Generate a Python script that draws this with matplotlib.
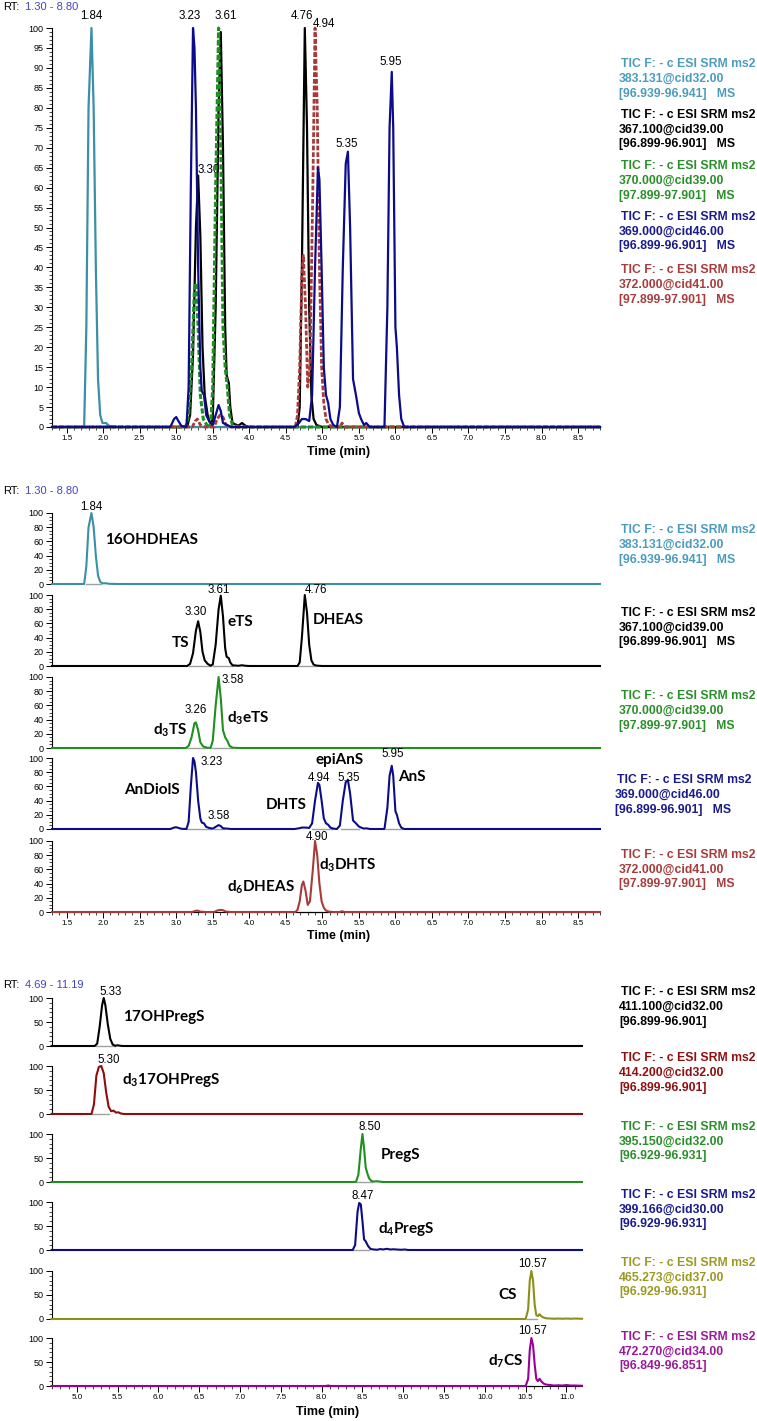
import matplotlib
matplotlib.use('Agg')
import matplotlib.pyplot as plt
from matplotlib.ticker import MultipleLocator, FormatStrFormatter

plt.rcParams['font.family'] = ['Liberation Sans', 'DejaVu Sans']
plt.rcParams['mathtext.fontset'] = 'custom'
plt.rcParams['mathtext.rm'] = 'Lato:bold'
plt.rcParams['mathtext.it'] = 'Lato:bold'
plt.rcParams['mathtext.bf'] = 'Lato:bold'

W, H = 757, 1421

# ---------------- traces, run 1 (RT 1.30 - 8.80) ----------------
t_383 = [1.30, 1.74, 1.77, 1.80, 1.84, 1.87, 1.90, 1.93, 1.96, 1.99, 2.04, 2.08, 2.20, 8.80]
i_383 = [0, 0, 25, 80, 100, 80, 40, 12, 3, 1, 1, 0.3, 0, 0]

t_367 = [1.30, 3.15, 3.19, 3.23, 3.27, 3.30, 3.33, 3.36, 3.39, 3.43, 3.47, 3.50, 3.54, 3.58,
         3.61, 3.64, 3.67, 3.69, 3.72, 3.74, 3.77, 3.85, 3.90, 3.95, 4.00, 4.66, 4.69, 4.72,
         4.76, 4.79, 4.82, 4.85, 4.88, 4.92, 5.00, 8.80]
i_367 = [0, 0, 3, 18, 50, 63, 48, 20, 8, 3, 0.5, 2, 30, 80,
         99, 70, 25, 13, 11, 5, 1, 0.3, 1, 0.3, 0, 0, 5, 40,
         100, 75, 30, 8, 2, 0.5, 0, 0]

t_370 = [1.30, 3.13, 3.17, 3.21, 3.25, 3.27, 3.30, 3.33, 3.37, 3.42, 3.47, 3.50, 3.54, 3.58,
         3.61, 3.64, 3.67, 3.70, 3.73, 3.77, 3.85, 8.80]
i_370 = [0, 0, 3, 15, 35, 36, 25, 8, 2, 0.5, 0, 10, 60, 100,
         70, 25, 15, 10, 3, 0.5, 0, 0]

t_369 = [1.30, 2.92, 2.97, 3.00, 3.03, 3.07, 3.14, 3.17, 3.20, 3.23, 3.25, 3.27, 3.30, 3.33,
         3.35, 3.38, 3.41, 3.45, 3.50, 3.54, 3.58, 3.61, 3.64, 3.70, 3.75, 4.62, 4.68, 4.72,
         4.77, 4.82, 4.86, 4.90, 4.94, 4.96, 4.99, 5.02, 5.05, 5.08, 5.11, 5.15, 5.20, 5.24,
         5.28, 5.32, 5.35, 5.38, 5.42, 5.46, 5.50, 5.53, 5.57, 5.60, 5.65, 5.85, 5.89, 5.92,
         5.95, 5.97, 6.00, 6.02, 6.05, 6.08, 6.12, 8.80]
i_369 = [0, 0, 2, 2.5, 1.5, 0.3, 0, 10, 60, 100, 95, 80, 40, 15,
         9, 8, 3, 1.5, 0.5, 3, 5.5, 4, 1, 0.5, 0, 0, 1, 2,
         2, 1.5, 8, 40, 65, 62, 40, 15, 8, 6, 2, 0.5, 0, 5,
         40, 66, 69, 50, 12, 8, 3.5, 2, 0.5, 1, 0, 0, 30, 75,
         89, 75, 25, 20, 8, 2, 0, 0]

t_372 = [1.30, 3.22, 3.26, 3.29, 3.33, 3.40, 3.52, 3.56, 3.60, 3.64, 3.68, 3.75, 4.63, 4.66,
         4.69, 4.72, 4.74, 4.77, 4.80, 4.83, 4.87, 4.90, 4.93, 4.96, 4.99, 5.02, 5.05, 5.09,
         5.15, 5.24, 5.27, 5.30, 8.80]
i_372 = [0, 0, 1.5, 2, 0.5, 0, 0, 2, 3, 2.5, 0.5, 0, 0, 3,
         15, 38, 43, 30, 10, 15, 60, 100, 80, 40, 15, 6, 2, 0.5,
         0, 0, 1, 0, 0]

# ---------------- traces, run 2 (RT 4.69 - 11.19) ----------------
t_411 = [4.69, 5.22, 5.25, 5.28, 5.31, 5.33, 5.35, 5.38, 5.41, 5.44, 5.47, 5.50, 5.53, 5.56, 11.19]
i_411 = [0, 0, 5, 40, 85, 100, 85, 45, 15, 3, 0.5, 1.5, 0.5, 0, 0]

t_414 = [4.69, 5.18, 5.21, 5.24, 5.27, 5.30, 5.33, 5.36, 5.39, 5.42, 5.45, 5.48, 5.51, 5.54, 5.58, 11.19]
i_414 = [0, 0, 20, 80, 98, 100, 85, 45, 15, 6, 7, 3, 3.5, 1, 0, 0]

t_395 = [4.69, 8.42, 8.45, 8.48, 8.50, 8.52, 8.54, 8.56, 8.58, 8.61, 8.64, 8.68, 8.72, 8.76, 11.19]
i_395 = [0, 0, 15, 70, 100, 70, 30, 18, 8, 2, 1, 1.5, 0.5, 0, 0]

t_399 = [4.69, 8.38, 8.41, 8.44, 8.46, 8.48, 8.50, 8.52, 8.54, 8.57, 8.60, 8.64, 8.68, 8.72,
         8.75, 8.80, 8.84, 8.88, 8.92, 8.97, 9.02, 9.06, 11.19]
i_399 = [0, 0, 10, 80, 98, 95, 60, 22, 18, 8, 2, 1, 0.5, 2,
         1, 2.5, 1, 1.5, 1, 0.5, 1, 0, 0]

t_465 = [4.69, 10.50, 10.53, 10.55, 10.57, 10.59, 10.61, 10.63, 10.65, 10.67, 10.69, 10.72,
         10.75, 10.80, 10.85, 10.90, 10.95, 11.00, 11.05, 11.10, 11.19]
i_465 = [0, 0, 20, 80, 100, 80, 30, 8, 6, 10, 6, 3,
         1.5, 1, 0.5, 1, 0.5, 1, 0.5, 1, 0.5]

t_472 = [4.69, 8.05, 8.08, 8.11, 10.50, 10.53, 10.55, 10.57, 10.59, 10.61, 10.63, 10.65, 10.67,
         10.69, 10.72, 10.75, 10.80, 10.85, 10.90, 10.95, 11.00, 11.05, 11.10, 11.19]
i_472 = [0, 0, 1, 0, 0, 15, 75, 100, 85, 45, 15, 10, 15,
         10, 5, 3, 2, 1, 1.5, 1, 2, 1, 1, 0.5]

# integration baselines (peak start, peak end)
base_383 = [(1.76, 1.97)]
base_367 = [(3.17, 3.47), (3.50, 3.78), (4.67, 4.90)]
base_370 = [(3.15, 3.42), (3.49, 3.77)]
base_369 = [(3.15, 3.47), (3.52, 3.66), (4.86, 5.13), (5.25, 5.50), (5.87, 6.09)]
base_372 = [(4.65, 4.83), (4.83, 5.07)]
base_411 = [(5.23, 5.47)]
base_414 = [(5.19, 5.40)]
base_395 = [(8.43, 8.62)]
base_399 = [(8.39, 8.58)]
base_465 = [(10.51, 10.64)]
base_472 = [(10.51, 10.64)]

# peak labels (x, y, text)
top_labels = [(1.84, 103, '1.84'), (3.19, 103, '3.23'), (3.68, 103, '3.61'),
              (4.72, 103, '4.76'), (5.02, 101, '4.94'), (5.33, 71, '5.35'), (5.93, 91.5, '5.95')]

mid_peaks = [
    [(1.84, 109, '1.84')],
    [(3.27, 76, '3.30'), (3.58, 107, '3.61'), (4.91, 107, '4.76')],
    [(3.77, 96, '3.58'), (3.27, 54, '3.26')],
    [(3.48, 94, '3.23'), (3.58, 18, '3.58'), (4.95, 72, '4.94'), (5.36, 72, '5.35'), (5.96, 106, '5.95')],
    [(4.93, 105, '4.90')],
]
mid_names = [
    [(2.02, 62, '16OHDHEAS', 'left')],
    [(3.06, 32, 'TS', 'center'), (3.88, 62, 'eTS', 'center'), (5.22, 65, 'DHEAS', 'center')],
    [(2.92, 25, 'd$_3$TS', 'center'), (3.99, 42, 'd$_3$eTS', 'center')],
    [(2.67, 55, 'AnDiolS', 'center'), (4.50, 34, 'DHTS', 'center'), (5.24, 97, 'epiAnS', 'center'),
     (6.23, 73, 'AnS', 'center')],
    [(4.16, 35, 'd$_6$DHEAS', 'center'), (5.35, 66, 'd$_3$DHTS', 'center')],
]
bot_peaks = [
    [(5.41, 113, '5.33')], [(5.39, 112, '5.30')], [(8.59, 115, '8.50')],
    [(8.50, 112, '8.47')], [(10.58, 115, '10.57')], [(10.58, 115, '10.57')],
]
bot_names = [
    [(6.06, 60, '17OHPregS')], [(6.15, 71, 'd$_3$17OHPregS')], [(8.97, 56, 'PregS')],
    [(9.04, 44, 'd$_4$PregS')], [(10.28, 50, 'CS')], [(10.26, 52, 'd$_7$CS')],
]

c_cyan, c_black, c_green, c_blue, c_red = '#3b8fa8', '#000000', '#1f8f1f', '#0c0c8a', '#a83a3a'
c_dred, c_olive, c_purple = '#8e0c0c', '#8e8e1a', '#990099'

leg_top = [
    ('383.131@cid32.00', '[96.939-96.941]   MS', '#4b9cbc'),
    ('367.100@cid39.00', '[96.899-96.901]   MS', '#000000'),
    ('370.000@cid39.00', '[97.899-97.901]   MS', '#2a8f2a'),
    ('369.000@cid46.00', '[96.899-96.901]   MS', '#1a1a8c'),
    ('372.000@cid41.00', '[97.899-97.901]   MS', '#a83c3c'),
]
leg_bot = [
    ('411.100@cid32.00', '[96.899-96.901]', '#000000'),
    ('414.200@cid32.00', '[96.899-96.901]', '#8e1010'),
    ('395.150@cid32.00', '[96.929-96.931]', '#2a8f2a'),
    ('399.166@cid30.00', '[96.929-96.931]', '#1a1a8c'),
    ('465.273@cid37.00', '[96.929-96.931]', '#9a9a22'),
    ('472.270@cid34.00', '[96.849-96.851]', '#9a1a9a'),
]

fig = plt.figure(figsize=(W / 100, H / 100), dpi=100)


def add_ax(left, right, top, zero):
    return fig.add_axes([left / W, 1 - zero / H, (right - left) / W, (zero - top) / H])


def style(ax, xlim, ymaj, ymin, show_x):
    ax.set_xlim(*xlim)
    ax.set_ylim(0, 100)
    ax.patch.set_alpha(0)
    for s in ['top', 'right']:
        ax.spines[s].set_visible(False)
    ax.spines['left'].set_linewidth(0.8)
    ax.yaxis.set_major_locator(MultipleLocator(ymaj))
    ax.yaxis.set_minor_locator(MultipleLocator(ymin))
    ax.tick_params(axis='y', which='major', length=4, width=0.7, labelsize=6.5, pad=2)
    ax.tick_params(axis='y', which='minor', length=2, width=0.5)
    if show_x:
        ax.spines['bottom'].set_linewidth(0.8)
        ax.xaxis.set_major_locator(MultipleLocator(0.5))
        ax.xaxis.set_minor_locator(MultipleLocator(0.1))
        ax.xaxis.set_major_formatter(FormatStrFormatter('%.1f'))
        ax.tick_params(axis='x', which='major', length=4, width=0.7, labelsize=5.8, pad=2)
        ax.tick_params(axis='x', which='minor', length=2, width=0.5)
    else:
        ax.spines['bottom'].set_visible(False)
        ax.set_xticks([])


def trace(ax, t, i, color, bases=None, lw=1.5, ls='-', z=3):
    if bases:
        for a, b in bases:
            ax.plot([a, b], [0, 0], color='#a0a0a0', lw=1.0, zorder=1, clip_on=False)
    ax.plot(t, i, color=color, lw=lw, ls=ls, zorder=z, clip_on=False)


def legend_block(x, y, l2, l3, color):
    fig.text((x + 2) / W, 1 - y / H, 'TIC F: - c ESI SRM ms2', color=color, fontsize=8.8,
             fontweight='bold', va='center')
    fig.text(x / W, 1 - (y + 14.5) / H, l2, color=color, fontsize=8.8, fontweight='bold', va='center')
    fig.text(x / W, 1 - (y + 29.5) / H, l3, color=color, fontsize=8.8, fontweight='bold', va='center')


def rt_label(y, rng):
    fig.text(3 / W, 1 - y / H, 'RT:', fontsize=8, va='center')
    fig.text(25 / W, 1 - y / H, rng, fontsize=8, va='center', color='#4444bb')


def name(ax, x, y, s, ha='center'):
    ax.text(x, y, s, fontsize=11, fontweight='bold', family='Lato', ha=ha, va='center')


def peak(ax, x, y, s, ha='center'):
    ax.text(x, y, s, fontsize=8.3, ha=ha, va='center', clip_on=False)


# ---------------- top: overlay ----------------
rt_label(7, '1.30 - 8.80')
ax = add_ax(52, 600, 28, 427)
style(ax, (1.3, 8.8), 5, 1, True)
ax.text(3.29, 64.4, '3.30', fontsize=8.3, ha='left', va='center', zorder=0)
trace(ax, t_383, i_383, c_cyan, lw=1.6)
trace(ax, t_367, i_367, c_black, lw=1.6)
trace(ax, t_370, i_370, c_green, lw=2.2, ls=(0, (1.7, 0.7)), z=4)
trace(ax, t_372, i_372, c_red, lw=2.0, ls=(0, (1.7, 0.7)), z=4)
trace(ax, t_369, i_369, c_blue, lw=1.6, z=5)
for x, y, s in top_labels:
    peak(ax, x, y, s)
fig.text(339 / W, 1 - 452 / H, 'Time (min)', fontsize=9, fontweight='bold', ha='center', va='center')
for k, (l2, l3, col) in enumerate(leg_top):
    legend_block(619, [64, 115, 166, 217, 270][k], l2, l3, col)

# ---------------- middle: stacked ----------------
rt_label(491, '1.30 - 8.80')
mid_data = [(t_383, i_383, c_cyan, base_383), (t_367, i_367, c_black, base_367),
            (t_370, i_370, c_green, base_370), (t_369, i_369, c_blue, base_369),
            (t_372, i_372, c_red, base_372)]
mid_tops = [513, 595, 677, 758, 841]
for k, (t, i, col, b) in enumerate(mid_data):
    ax = add_ax(52, 600, mid_tops[k], mid_tops[k] + 71)
    style(ax, (1.3, 8.8), 20, 5, k == 4)
    trace(ax, t, i, col, b, lw=1.5)
    for x, y, s in mid_peaks[k]:
        peak(ax, x, y, s)
    for x, y, s, ha in mid_names[k]:
        name(ax, x, y, s, ha)
fig.text(339 / W, 1 - 936 / H, 'Time (min)', fontsize=9, fontweight='bold', ha='center', va='center')
for k, (l2, l3, col) in enumerate(leg_top):
    legend_block(619 if k != 3 else 615, [530, 613, 696, 780, 855][k], l2, l3, col)

# ---------------- bottom: stacked ----------------
rt_label(985, '4.69 - 11.19')
bot_data = [(t_411, i_411, c_black, base_411), (t_414, i_414, c_dred, base_414),
            (t_395, i_395, c_green, base_395), (t_399, i_399, c_blue, base_399),
            (t_465, i_465, c_olive, base_465), (t_472, i_472, c_purple, base_472)]
bot_tops = [998, 1066, 1134, 1202, 1271, 1338]
for k, (t, i, col, b) in enumerate(bot_data):
    ax = add_ax(51.5, 582, bot_tops[k], bot_tops[k] + 48)
    style(ax, (4.69, 11.19), 50, 10, k == 5)
    trace(ax, t, i, col, b, lw=1.5)
    for x, y, s in bot_peaks[k]:
        peak(ax, x, y, s)
    for x, y, s in bot_names[k]:
        name(ax, x, y, s)
fig.text(328 / W, 1 - 1412 / H, 'Time (min)', fontsize=9, fontweight='bold', ha='center', va='center')
for k, (l2, l3, col) in enumerate(leg_bot):
    legend_block(619, [992, 1058, 1127, 1195, 1263, 1337][k], l2, l3, col)

fig.savefig('out.png', dpi=100)
